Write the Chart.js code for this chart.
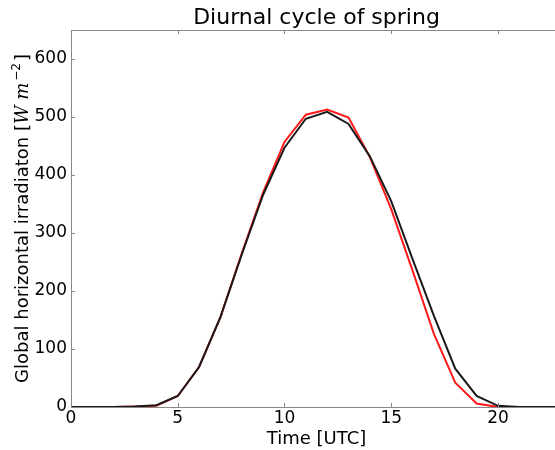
<!DOCTYPE html>
<html><head><meta charset="utf-8">
<script src="https://cdn.jsdelivr.net/npm/chart.js@4/dist/chart.umd.min.js"></script>
<style>
html,body{margin:0;padding:0;background:#fff;overflow:hidden;width:555px;height:450px}
#wrap{width:580px;height:450px;position:relative}
</style></head><body>
<div id="wrap"><canvas id="c" width="580" height="450"></canvas></div>
<script>
const hours = [0,1,2,3,4,5,6,7,8,9,10,11,12,13,14,15,16,17,18,19,20,21,22,23];
const observed = [0,0,0,1,3,19,69,155,263,366,447,497,509,488,432,355,255,157,66,19,2,0,0,0];
const modelled = [0,0,0,1,2,19,69,155,265,370,457,504,513,499,431,341,235,126,42,6,0,0,0,0];
const xTicks = [0,5,10,15,20];
const yTicks = [0,100,200,300,400,500,600];
const titleText = 'Diurnal cycle of spring';
const xTitle = 'Time [UTC]';
const yTitlePlain = 'Global horizontal irradiaton [';
const yTitleMath = 'W m';
const yTitleExp = '−2';
const yTitleEnd = ']';

const FONT = "'DejaVu Sans', sans-serif";
const SERIF = "'DejaVu Serif', serif";

const framePlugin = {
  id: 'frame',
  afterDatasetsDraw(chart) {
    const {ctx, chartArea: a, scales: {x, y}} = chart;
    ctx.save();
    ctx.strokeStyle = '#888';
    ctx.lineWidth = 1;
    ctx.strokeRect(Math.round(a.left) + 0.5, Math.round(a.top) + 0.5, Math.round(a.right - a.left), Math.round(a.bottom - a.top));
    ctx.beginPath();
    const L = 4;
    xTicks.forEach(v => {
      const px = Math.round(x.getPixelForValue(v)) + 0.5;
      ctx.moveTo(px, a.bottom); ctx.lineTo(px, a.bottom - L);
      ctx.moveTo(px, a.top); ctx.lineTo(px, a.top + L);
    });
    yTicks.forEach(v => {
      const py = Math.round(y.getPixelForValue(v)) + 0.5;
      ctx.moveTo(a.left, py); ctx.lineTo(a.left + L, py);
      ctx.moveTo(a.right, py); ctx.lineTo(a.right - L, py);
    });
    ctx.stroke();
    // title centred on axes
    ctx.fillStyle = '#000';
    ctx.font = '22px ' + FONT;
    ctx.textAlign = 'center';
    ctx.textBaseline = 'alphabetic';
    ctx.fillText(titleText, (a.left + a.right) / 2, a.top - 6);
    // y-axis title with math part
    const f1 = '18px ' + FONT, f2 = 'italic 18px ' + SERIF, f3 = '12px ' + FONT;
    ctx.font = f1; const w1 = ctx.measureText(yTitlePlain).width;
    ctx.font = f2; const w2 = ctx.measureText(yTitleMath).width;
    ctx.font = f3; const w3 = ctx.measureText(yTitleExp).width;
    ctx.font = f1; const w4 = ctx.measureText(yTitleEnd).width;
    const total = w1 + w2 + 2 + w3 + 2 + w4;
    ctx.translate(28, (a.top + a.bottom) / 2);
    ctx.rotate(-Math.PI / 2);
    ctx.textAlign = 'left';
    let cx = -total / 2;
    ctx.font = f1; ctx.fillText(yTitlePlain, cx, 0); cx += w1;
    ctx.font = f2; ctx.fillText(yTitleMath, cx, 0); cx += w2 + 2;
    ctx.font = f3; ctx.fillText(yTitleExp, cx, -8); cx += w3 + 2;
    ctx.font = f1; ctx.fillText(yTitleEnd, cx, 0);
    ctx.restore();
  }
};

new Chart(document.getElementById('c'), {
  type: 'line',
  data: {
    labels: hours,
    datasets: [
      {label: 'observed', data: hours.map((h,i)=>({x:h,y:observed[i]})), borderColor: '#1a1a1a', borderWidth: 2, pointRadius: 0, tension: 0, order: 0},
      {label: 'modelled', data: hours.map((h,i)=>({x:h,y:modelled[i]})), borderColor: '#ff1a1a', borderWidth: 2, pointRadius: 0, tension: 0, order: 1}
    ]
  },
  options: {
    responsive: false,
    animation: false,
    layout: {padding: {top: 30, right: 18, left: 0, bottom: 0}},
    plugins: {legend: {display: false}, tooltip: {enabled: false}, title: {display: false}},
    scales: {
      x: {
        type: 'linear', min: 0, max: 23,
        afterBuildTicks: s => { s.ticks = xTicks.map(v => ({value: v})); },
        afterFit: s => { s.height = 43; },
        grid: {display: false, drawTicks: false}, border: {display: false},
        ticks: {color: '#000', font: {family: FONT, size: 17}, padding: 1, maxRotation: 0},
        title: {display: true, text: xTitle, color: '#000', font: {family: FONT, size: 18}, padding: {top: 0, bottom: 0}}
      },
      y: {
        min: 0, max: 650,
        afterBuildTicks: s => { s.ticks = yTicks.map(v => ({value: v})); },
        afterFit: s => { s.width = 71; },
        grid: {display: false, drawTicks: false}, border: {display: false},
        ticks: {color: '#000', font: {family: FONT, size: 17}, padding: 4},
        title: {display: false}
      }
    }
  },
  plugins: [framePlugin]
});
</script>
</body></html>
